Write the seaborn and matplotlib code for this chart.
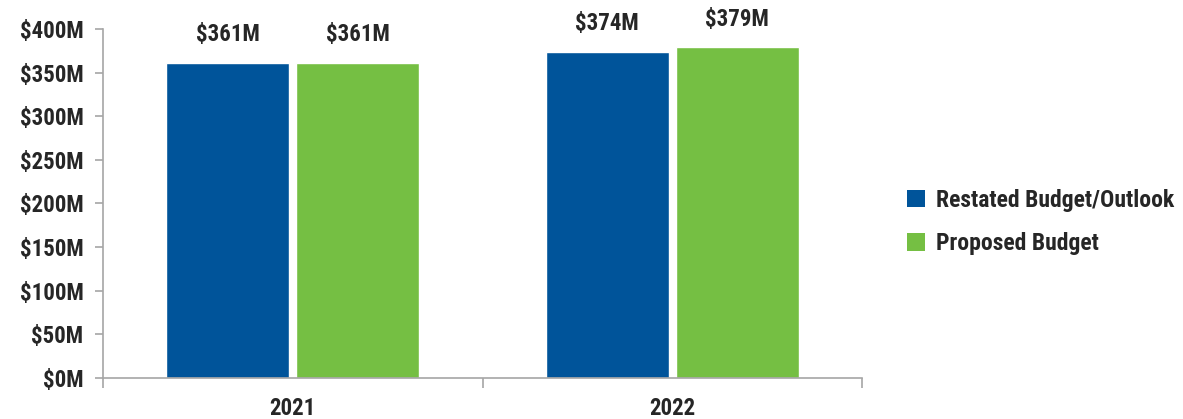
import matplotlib
matplotlib.use("Agg")
import matplotlib.pyplot as plt
import seaborn as sns
import pandas as pd
from matplotlib.patches import Patch
from matplotlib.ticker import FixedLocator
from matplotlib import font_manager

years = ["2021", "2022"]
series = ["Restated Budget/Outlook", "Proposed Budget"]
restated = [361, 374]
proposed = [361, 379]
yticks = [0, 50, 100, 150, 200, 250, 300, 350, 400]
colors = ["#00549A", "#75BF43"]

df = pd.DataFrame({
    "year": years * 2,
    "series": [series[0]] * 2 + [series[1]] * 2,
    "value": restated + proposed,
})

sns.set_theme(style="white")
available = {f.name for f in font_manager.fontManager.ttflist}
prefs = ['Roboto Condensed', 'DejaVu Sans Condensed', 'Liberation Sans Narrow', 'DejaVu Sans']
fams = [f for f in prefs if f in available] or ['DejaVu Sans']
plt.rcParams['font.family'] = fams
plt.rcParams['font.weight'] = 'bold'

fig = plt.figure(figsize=(11.83, 4.19), dpi=100)
ax = fig.add_axes([0.0871, 0.0979, 0.7287 - 0.0871, 0.9308 - 0.0979])

sns.barplot(data=df, x="year", y="value", hue="series", order=years,
            hue_order=series, palette=colors, width=0.685, gap=0.054,
            saturation=1, ax=ax, legend=False)

fs = 16.5
ax.set_xlim(-0.5, 1.5)
ax.set_ylim(0, 400)
ax.set_yticks(yticks)
ax.set_yticklabels([f"${v}M" for v in yticks], fontsize=fs, fontweight='bold')
ax.set_xticks([0, 1])
ax.set_xticklabels(years, fontsize=fs, fontweight='bold')
ax.xaxis.set_minor_locator(FixedLocator([-0.5, 0.5, 1.5]))
ax.tick_params(axis='x', which='major', length=0, pad=14)
ax.tick_params(axis='x', which='minor', length=7, width=1.2, color='#A6A6A6', bottom=True)
ax.tick_params(axis='y', length=6, width=1.2, color='#A6A6A6', left=True, pad=8)
ax.set_xlabel("")
ax.set_ylabel("")
for s in ["top", "right"]:
    ax.spines[s].set_visible(False)
for s in ["left", "bottom"]:
    ax.spines[s].set_color('#A6A6A6')
    ax.spines[s].set_linewidth(1.2)
ax.grid(False)

for cont in ax.containers:
    ax.bar_label(cont, labels=[f"${int(v)}M" for v in cont.datavalues],
                 padding=12, fontsize=fs, fontweight='bold')

handles = [Patch(facecolor=c, edgecolor='none') for c in colors]
fig.legend(handles, series, loc='center left', bbox_to_anchor=(0.749, 0.47),
           frameon=False, handlelength=0.75, handleheight=0.75, handletextpad=0.45,
           labelspacing=0.85, prop={'size': 17, 'weight': 'bold'})

fig.savefig("out.png", dpi=100)
